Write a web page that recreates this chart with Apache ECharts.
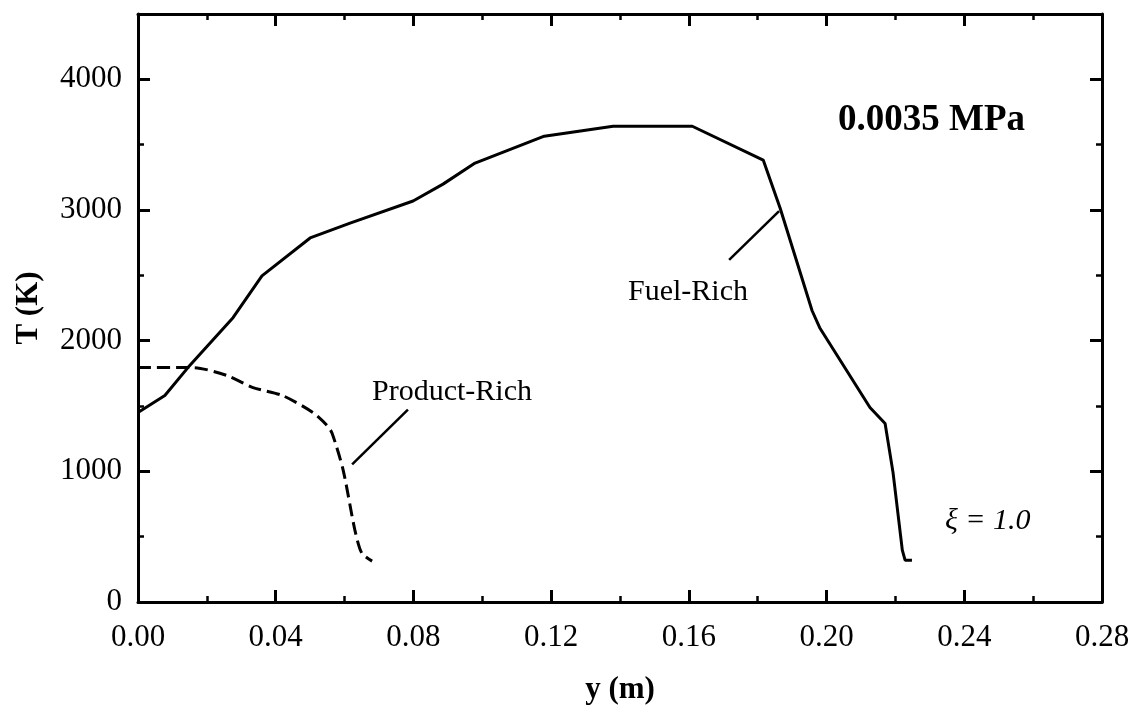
<!DOCTYPE html>
<html>
<head>
<meta charset="utf-8">
<script src="https://cdn.jsdelivr.net/npm/echarts@6/dist/echarts.min.js"></script>
<style>
  html, body { margin: 0; padding: 0; background: #fff; }
  #chart { width: 1135px; height: 712px; }
</style>
</head>
<body>
<div id="chart"></div>
<script>
  // Fuel-Rich curve (solid)
  var fuelY = [0, 0.0078, 0.0145, 0.0276, 0.036, 0.050, 0.0616, 0.0799, 0.0886, 0.0979, 0.118, 0.138, 0.161, 0.1816, 0.1865, 0.1958, 0.198, 0.2126, 0.217, 0.2193, 0.222, 0.2228, 0.2248]
  var fuelT = [1450, 1580, 1794, 2176, 2496, 2786, 2900, 3069, 3198, 3359, 3565, 3641, 3641, 3382, 3015, 2229, 2099, 1489, 1366, 992, 397, 320, 320]

  // Product-Rich curve (dashed)
  var prodY = [0, 0.016, 0.0259, 0.0334, 0.042, 0.0508, 0.0549, 0.0564, 0.0596, 0.063, 0.065, 0.068]
  var prodT = [1794, 1794, 1733, 1641, 1580, 1450, 1351, 1290, 1008, 550, 374, 313]

  // leader lines for the labels
  var prodLeader = [[0.0784, 1473], [0.0622, 1053]]
  var fuelLeader = [[0.1717, 2618], [0.1862, 2992]]

  var xTicks = ['0.00', '0.04', '0.08', '0.12', '0.16', '0.20', '0.24', '0.28']
  var yTicks = ['0', '1000', '2000', '3000', '4000']

  var serif = '"Liberation Serif", "Times New Roman", serif'

  function pairs(xs, ys) {
    return xs.map(function (x, i) { return [x, ys[i]] })
  }

  var chart = echarts.init(document.getElementById('chart'))

  // 轴线: 四边都画, 刻度朝内
  var axisLine = { show: true, onZero: false, lineStyle: { color: '#000', width: 3 } }
  var axisTick = { show: true, inside: true, length: 12, lineStyle: { color: '#000', width: 3 } }
  var minorTick = { show: true, splitNumber: 2, length: 6, lineStyle: { color: '#000', width: 2.5 } }

  chart.setOption({
    animation: false,
    backgroundColor: '#fff',
    grid: { left: 138, right: 33, top: 14, bottom: 110 },
    xAxis: [{
      type: 'value', min: 0, max: 0.28, interval: 0.04,
      name: 'y (m)', nameLocation: 'middle', nameGap: 72,
      nameTextStyle: { fontFamily: serif, fontSize: 31, fontWeight: 'bold', color: '#000' },
      axisLine: axisLine, axisTick: axisTick, minorTick: minorTick,
      splitLine: { show: false },
      axisLabel: {
        margin: 20, fontFamily: serif, fontSize: 31, color: '#000',
        formatter: function (v) { return xTicks[Math.round(v / 0.04)] }
      }
    }, {
      type: 'value', position: 'top', min: 0, max: 0.28, interval: 0.04,
      axisLine: axisLine, axisTick: axisTick, minorTick: minorTick,
      splitLine: { show: false }, axisLabel: { show: false }
    }],
    yAxis: [{
      type: 'value', min: 0, max: 4500, interval: 1000,
      name: 'T (K)', nameLocation: 'middle', nameGap: 94, nameRotate: 90,
      nameTextStyle: { fontFamily: serif, fontSize: 31, fontWeight: 'bold', color: '#000' },
      axisLine: axisLine, axisTick: axisTick, minorTick: minorTick,
      splitLine: { show: false },
      axisLabel: {
        margin: 16, fontFamily: serif, fontSize: 31, color: '#000',
        showMaxLabel: false,
        formatter: function (v) { return yTicks[Math.round(v / 1000)] }
      }
    }, {
      type: 'value', position: 'right', min: 0, max: 4500, interval: 1000,
      axisLine: axisLine, axisTick: axisTick, minorTick: minorTick,
      splitLine: { show: false }, axisLabel: { show: false }
    }],
    series: [{
      name: 'Fuel-Rich', type: 'line', data: pairs(fuelY, fuelT),
      showSymbol: false, lineStyle: { color: '#000', width: 3 }
    }, {
      name: 'Product-Rich', type: 'line', data: pairs(prodY, prodT),
      showSymbol: false, smooth: 0.25,
      lineStyle: { color: '#000', width: 3, type: [13, 6] }
    }, {
      type: 'line', data: prodLeader, showSymbol: false,
      lineStyle: { color: '#000', width: 2.5 }
    }, {
      type: 'line', data: fuelLeader, showSymbol: false,
      lineStyle: { color: '#000', width: 2.5 }
    }],
    graphic: [{
      type: 'text', left: 838, top: 102,
      style: { text: '0.0035 MPa', font: 'bold 37px ' + serif, fill: '#000' }
    }, {
      type: 'text', left: 372, top: 377,
      style: { text: 'Product-Rich', font: '30px ' + serif, fill: '#000' }
    }, {
      type: 'text', left: 628, top: 277,
      style: { text: 'Fuel-Rich', font: '30px ' + serif, fill: '#000' }
    }, {
      type: 'text', left: 945, top: 506,
      style: { text: 'ξ = 1.0', font: 'italic 30px ' + serif, fill: '#000' }
    }]
  })
</script>
</body>
</html>
